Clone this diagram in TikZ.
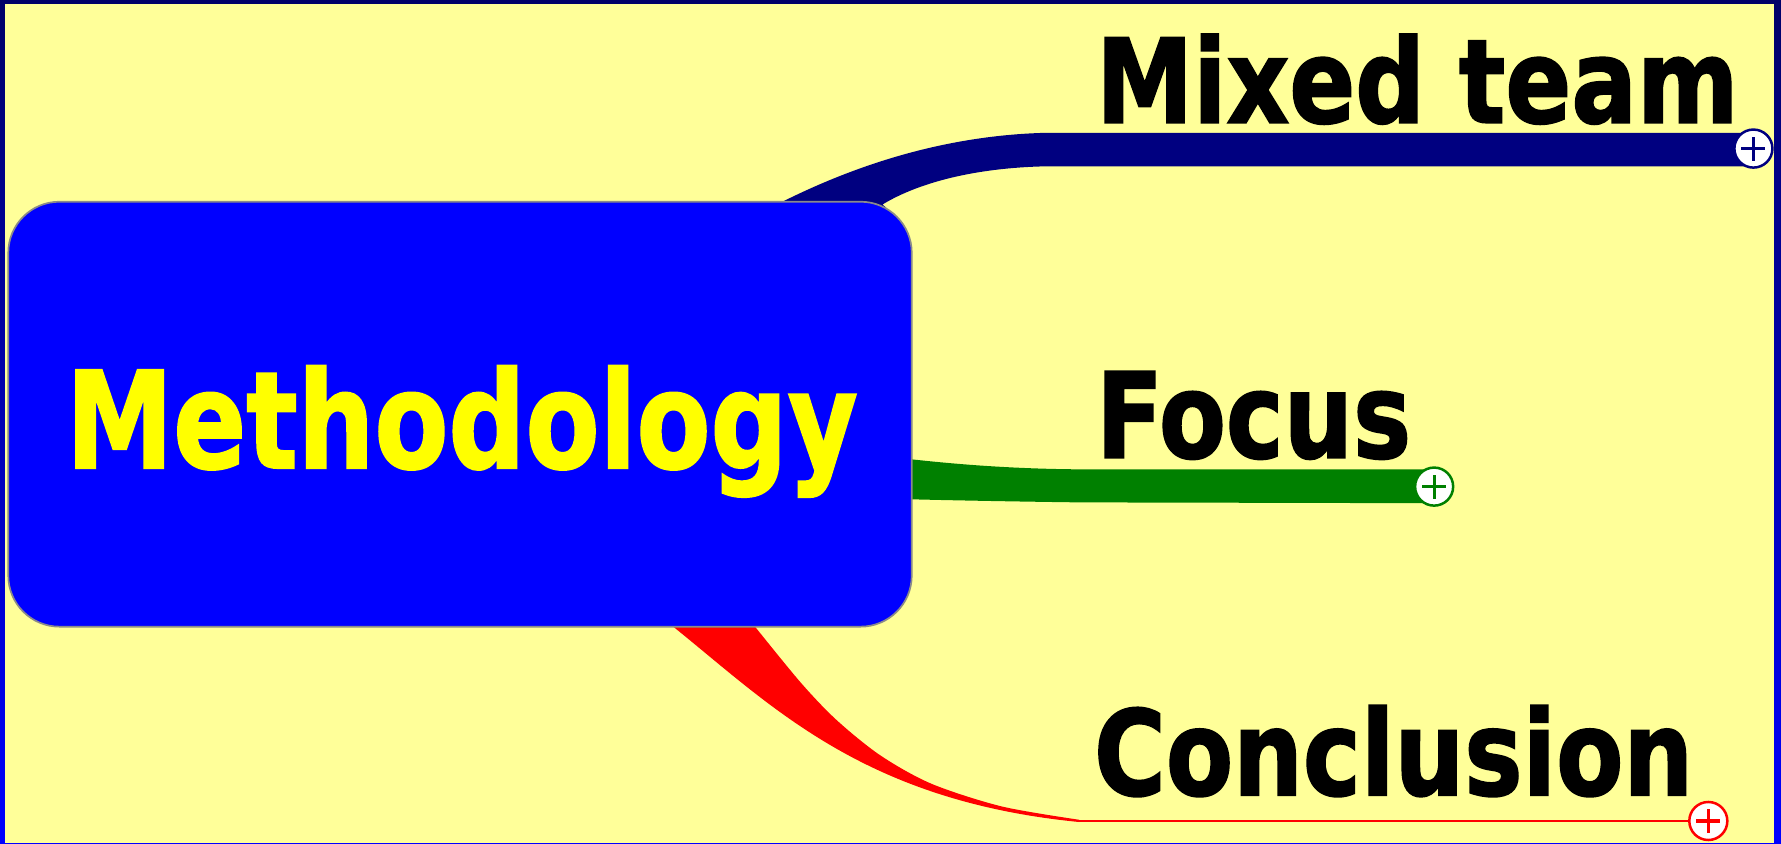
\documentclass[tikz,border=0pt]{standalone}
\usepackage{fontspec}
\setmainfont{DejaVu Sans}[BoldFeatures={FakeBold=1.6}]
\usepackage{graphicx}
\definecolor{bgyellow}{HTML}{FFFF99}
\definecolor{frametop}{HTML}{000068}
\definecolor{framebot}{HTML}{0000FF}
\definecolor{navybr}{HTML}{000080}
\definecolor{greenbr}{HTML}{008000}
\definecolor{redbr}{HTML}{FF0000}
\definecolor{boxblue}{HTML}{0000FF}
\definecolor{boxedge}{HTML}{8A8A8A}
\definecolor{titleyellow}{HTML}{FFFF00}
\begin{document}
\begin{tikzpicture}[x=1pt,y=-1pt,
  mainbox/.style={rectangle, rounded corners=45pt, fill=boxblue, draw=boxedge, line width=1.5pt,
    minimum width=795.4pt, minimum height=374.1pt, inner sep=0pt},
  lbl/.style={anchor=base west, inner sep=0pt, font=\bfseries},
  plusc/.style={circle, draw=#1, fill=white, line width=2.2pt, minimum size=33.5pt, inner sep=0pt,
    path picture={
      \draw[#1, line width=2.8pt] ([xshift=-10.5pt]path picture bounding box.center) -- ([xshift=10.5pt]path picture bounding box.center);
      \draw[#1, line width=2.8pt] ([yshift=-10.5pt]path picture bounding box.center) -- ([yshift=10.5pt]path picture bounding box.center);
    }}]
\useasboundingbox (0,0) rectangle (1568,742.2);
% frame and background
\shade[top color=frametop, bottom color=framebot] (0,0) rectangle (1568,742.2);
\fill[bgyellow] (4.4,3.5) rectangle (1562,742.2);

% plus marker positions
\coordinate (c1) at (1543.7,130.8);
\coordinate (c2) at (1262.6,428.4);
\coordinate (c3) at (1504,722.8);

% navy branch
\fill[navybr] (680,192) -- (688,178) .. controls (740,152) and (820,120) .. (918,117)
  -- (c1 |- 0,117) -- (c1 |- 0,146.5) -- (918,146.5)
  .. controls (860,148) and (810,160) .. (777,180) -- (790,192) -- cycle;
% green branch
\fill[greenbr] (790,404.4) -- (802.7,404.4) .. controls (840,408.5) and (890,412.8) .. (951,413.2)
  -- (c2 |- 0,413.2) -- (c2 |- 0,443) -- (951,442.3)
  .. controls (890,441.5) and (840,440.5) .. (802.7,439.6) -- (790,439.6) -- cycle;
% red branch
\fill[redbr] (585,540) -- (664.7,540) -- plot[smooth] coordinates {(664.7,551.7) (705,601) (736.6,634) (775,665) (820,690) (882,710) (950,721.7)}
  -- (950,723.7) .. controls (760,705) and (680,622) .. (592.7,551.7) -- (585,540) -- cycle;
\draw[redbr, line width=2pt] (948,722.7) -- (c3 |- 0,722.7);

% plus markers
\node[plusc=navybr] (p1) at (c1) {};
\node[plusc=greenbr] (p2) at (c2) {};
\node[plusc=redbr] (p3) at (c3) {};

% central node
\node[mainbox] (m) at (405,364.65) {};
\node[lbl, text=titleyellow] (mt) at (58,412) {\resizebox{697pt}{90pt}{Methodology}};

% labels
\node[lbl] (l1) at (965,108) {\resizebox{565pt}{78pt}{Mixed team}};
\node[lbl] (l2) at (965,403) {\resizebox{277pt}{76pt}{Focus}};
\node[lbl] (l3) at (963,700) {\resizebox{527pt}{79pt}{Conclusion}};
\end{tikzpicture}
\end{document}
